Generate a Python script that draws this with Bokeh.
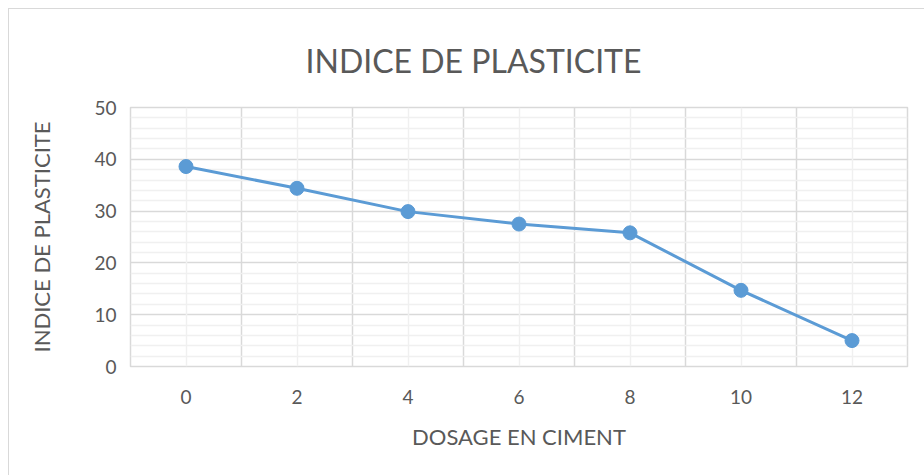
from bokeh.plotting import figure
from bokeh.models import FixedTicker, Range1d, Grid, ColumnDataSource
from bokeh.embed import file_html
from bokeh.resources import INLINE

title_text = "INDICE  DE PLASTICITE"
categories = ["0", "2", "4", "6", "8", "10", "12"]
indice = [38.6, 34.4, 29.9, 27.5, 25.8, 14.7, 5.0]
y_ticks = [0, 10, 20, 30, 40, 50]
y_minor = [2, 4, 6, 8, 12, 14, 16, 18, 22, 24, 26, 28, 32, 34, 36, 38, 42, 44, 46, 48]

xs = list(range(len(categories)))
src = ColumnDataSource(dict(x=xs, y=indice))

FONT = "Lato"
p = figure(width=916, height=467, output_backend="svg", toolbar_location=None,
           x_range=Range1d(-0.5, len(categories) - 0.5), y_range=Range1d(0, 50),
           min_border_left=121, min_border_right=18, min_border_top=98, min_border_bottom=110,
           title=title_text)
p.styles = {"margin-left": "8px", "margin-top": "8px",
            "border-left": "1px solid #d9d9d9", "border-top": "1px solid #d9d9d9",
            "box-sizing": "border-box"}
p.outline_line_color = "#d9d9d9"
p.outline_line_width = 1.5
p.background_fill_color = "white"
p.border_fill_color = "white"

p.title.align = "left"
p.title.offset = 175
p.title.standoff = 54
p.title.vertical_align = "middle"
p.title.text_font = FONT
p.title.text_font_size = "32px"
p.title.text_font_style = "normal"
p.title.text_color = "#595959"

# grids
p.xgrid.ticker = FixedTicker(ticks=[i + 0.5 for i in xs[:-1]])
p.xgrid.grid_line_color = "#d9d9d9"
p.xgrid.grid_line_width = 1.5
minor_x = Grid(dimension=0, ticker=FixedTicker(ticks=xs), grid_line_color="#f0f0f0", grid_line_width=1.5)
p.add_layout(minor_x, "center")
p.ygrid.ticker = FixedTicker(ticks=y_ticks, minor_ticks=y_minor)
p.ygrid.grid_line_color = "#d9d9d9"
p.ygrid.grid_line_width = 1.5
p.ygrid.minor_grid_line_color = "#f0f0f0"
p.ygrid.minor_grid_line_width = 1.5

# axes
p.xaxis.ticker = FixedTicker(ticks=xs)
p.xaxis.major_label_overrides = {i: c for i, c in enumerate(categories)}
p.yaxis.ticker = FixedTicker(ticks=y_ticks)
for ax in (p.xaxis[0], p.yaxis[0]):
    ax.axis_line_color = None
    ax.major_tick_line_color = None
    ax.minor_tick_line_color = None
    ax.major_label_text_font = FONT
    ax.major_label_text_font_size = "19px"
    ax.major_label_text_color = "#595959"
    ax.axis_label_text_font = FONT
    ax.axis_label_text_font_size = "22px"
    ax.axis_label_text_font_style = "normal"
    ax.axis_label_text_color = "#595959"
p.xaxis.major_label_standoff = 17
p.yaxis.major_label_standoff = 8
p.xaxis.axis_label = "DOSAGE EN CIMENT"
p.yaxis.axis_label = "INDICE DE PLASTICITE"
p.xaxis.axis_label_standoff = 16
p.yaxis.axis_label_standoff = 36

# data
p.line("x", "y", source=src, line_color="#5b9bd5", line_width=3)
p.scatter("x", "y", source=src, size=14, fill_color="#5b9bd5", line_color="#5b9bd5")

open("out.html", "w").write(file_html(p, INLINE))
